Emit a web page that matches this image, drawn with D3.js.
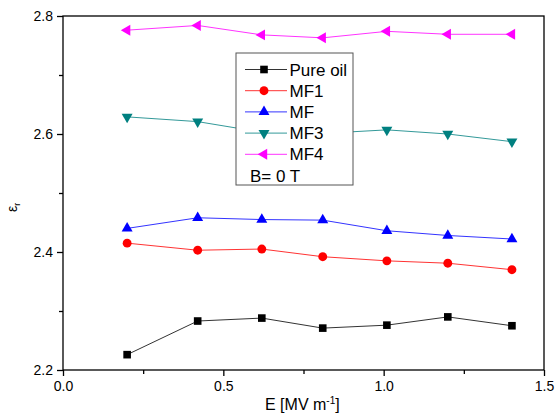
<!DOCTYPE html>
<html>
<head>
<meta charset="utf-8">
<script src="https://cdn.jsdelivr.net/npm/d3@7"></script>
<style>
  body { margin: 0; background: #fff; }
  text { font-family: "Liberation Sans", Arial, sans-serif; }
</style>
</head>
<body>
<div id="chart"></div>
<script>
// field values (MV/m)
var fieldE = [0.2, 0.42, 0.62, 0.81, 1.01, 1.2, 1.4];

var pureOil = [2.226, 2.283, 2.288, 2.271, 2.276, 2.290, 2.275];
var mf1 = [2.415, 2.403, 2.405, 2.392, 2.385, 2.381, 2.370];
var mf = [2.440, 2.458, 2.455, 2.454, 2.436, 2.428, 2.422];
var mf3 = [2.629, 2.621, 2.603, 2.601, 2.607, 2.600, 2.587];
var mf4 = [2.776, 2.784, 2.768, 2.763, 2.774, 2.769, 2.769];

var seriesNames = ["Pure oil", "MF1", "MF", "MF3", "MF4"];
var seriesColors = ["#000000", "#ff0000", "#0000ff", "#008080", "#ff00ff"];
var lineColors = ["#333333", "#ff3333", "#3333ff", "#339999", "#ff33ff"];

var xTicks = [0.0, 0.5, 1.0, 1.5];
var xMinor = [0.25, 0.75, 1.25];
var yTicks = [2.2, 2.4, 2.6, 2.8];
var yMinor = [2.3, 2.5, 2.7];

var width = 555, height = 419;
var margin = {left: 63, top: 16, right: 11, bottom: 49};

var svg = d3.select('#chart').append('svg')
    .attr('width', width)
    .attr('height', height);

var x = d3.scaleLinear().domain([0, 1.5]).range([margin.left, width - margin.right]);
var y = d3.scaleLinear().domain([2.2, 2.8]).range([height - margin.bottom, margin.top]);

var allSeries = [pureOil, mf1, mf, mf3, mf4];
var symbols = [
    {type: d3.symbolSquare, size: 58, rot: 0},
    {type: d3.symbolCircle, size: 62, rot: 0},
    {type: d3.symbolTriangle, size: 52, rot: 0},
    {type: d3.symbolTriangle, size: 52, rot: 180},
    {type: d3.symbolTriangle, size: 52, rot: -90}
];

// frame
svg.append('rect')
    .attr('x', x(0)).attr('y', y(2.8))
    .attr('width', x(1.5) - x(0)).attr('height', y(2.2) - y(2.8))
    .attr('fill', 'none').attr('stroke', '#000').attr('stroke-width', 1.3);

// axes
var xAxis = svg.append('g')
    .attr('transform', 'translate(0,' + y(2.2) + ')')
    .call(d3.axisBottom(x).tickValues(xTicks).tickFormat(d3.format('.1f')).tickSize(6).tickPadding(5));
svg.append('g')
    .attr('transform', 'translate(0,' + y(2.2) + ')')
    .call(d3.axisBottom(x).tickValues(xMinor).tickFormat('').tickSize(4));

var yAxis = svg.append('g')
    .attr('transform', 'translate(' + x(0) + ',0)')
    .call(d3.axisLeft(y).tickValues(yTicks).tickFormat(d3.format('.1f')).tickSize(6).tickPadding(4));
svg.append('g')
    .attr('transform', 'translate(' + x(0) + ',0)')
    .call(d3.axisLeft(y).tickValues(yMinor).tickFormat('').tickSize(4));

svg.selectAll('.domain').remove();
svg.selectAll('.tick line').attr('stroke', '#000').attr('stroke-width', 1.3);
svg.selectAll('.tick text')
    .style('font-size', '14px')
    .style('font-family', '"Liberation Sans", Arial, sans-serif')
    .attr('fill', '#000');

// series
var line = d3.line()
    .x(function (d, i) { return x(fieldE[i]); })
    .y(function (d) { return y(d); });

allSeries.forEach(function (vals, k) {
    svg.append('path')
        .datum(vals)
        .attr('d', line)
        .attr('fill', 'none')
        .attr('stroke', lineColors[k])
        .attr('stroke-width', 1);

    svg.selectAll('.pt' + k)
        .data(vals)
        .enter().append('path')
        .attr('class', 'pt' + k)
        .attr('d', d3.symbol().type(symbols[k].type).size(symbols[k].size))
        .attr('transform', function (d, i) {
            return 'translate(' + x(fieldE[i]) + ',' + y(d) + ') rotate(' + symbols[k].rot + ')';
        })
        .attr('fill', seriesColors[k]);
});

// legend
var legend = svg.append('g').attr('transform', 'translate(236,53)');
legend.append('rect')
    .attr('width', 117).attr('height', 132)
    .attr('fill', '#fff').attr('stroke', '#555').attr('stroke-width', 1);

seriesNames.forEach(function (name, k) {
    var ry = 16.5 + k * 21.2;
    legend.append('line')
        .attr('x1', 9).attr('x2', 51)
        .attr('y1', ry).attr('y2', ry)
        .attr('stroke', lineColors[k]).attr('stroke-width', 1);
    legend.append('path')
        .attr('d', d3.symbol().type(symbols[k].type).size(symbols[k].size))
        .attr('transform', 'translate(28,' + ry + ') rotate(' + symbols[k].rot + ')')
        .attr('fill', seriesColors[k]);
    legend.append('text')
        .attr('x', 53.5).attr('y', ry + 6)
        .style('font-size', '17px')
        .text(name);
});
legend.append('text')
    .attr('x', 14).attr('y', 128.5)
    .style('font-size', '17px')
    .text('B= 0 T');

// axis titles
var xt = svg.append('text')
    .attr('x', 265).attr('y', 410)
    .style('font-size', '16px');
xt.append('tspan').text('E [MV m');
xt.append('tspan').attr('dy', -6).style('font-size', '10px').text('-1');
xt.append('tspan').attr('dy', 6).text(']');

var yt = svg.append('text')
    .attr('transform', 'translate(17,212) rotate(-90)')
    .style('font-size', '14px');
yt.append('tspan').text('ε');
yt.append('tspan').attr('dy', 3).style('font-size', '9px').text('r');
</script>
</body>
</html>
